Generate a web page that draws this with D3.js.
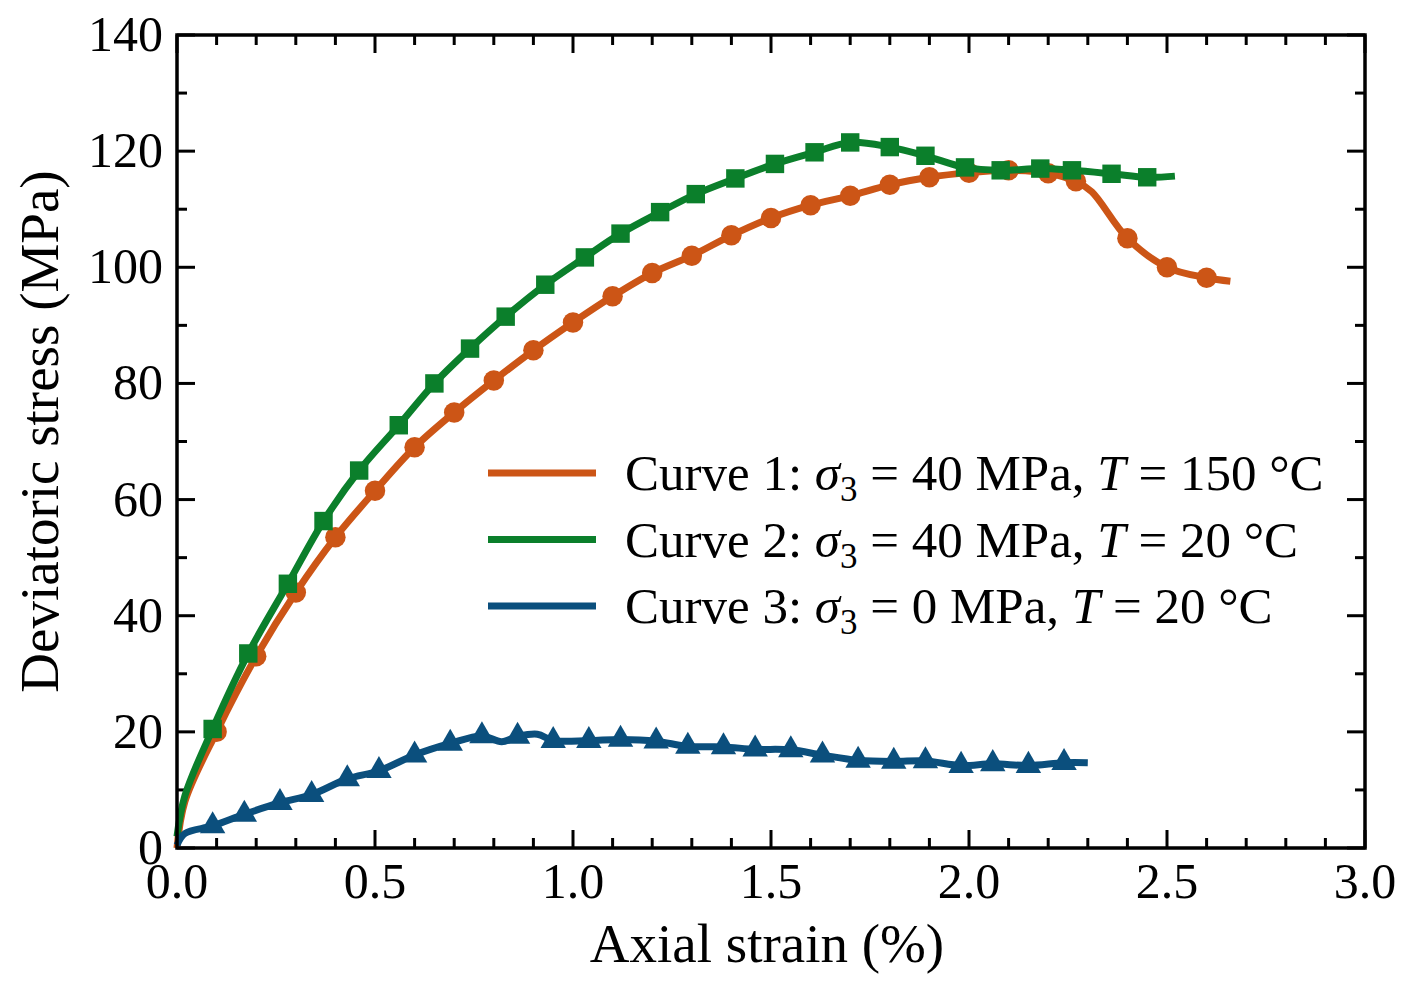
<!DOCTYPE html>
<html lang="en">
<head>
<meta charset="UTF-8">
<title>Deviatoric stress vs axial strain</title>
<script src="https://d3js.org/d3.v7.min.js"></script>
<style>
  body { margin: 0; background: #fff; }
  text { font-family: "Liberation Serif", "DejaVu Serif", serif; }
</style>
</head>
<body>
<script>
// curve 1: sigma3 = 40 MPa, T = 150 C (orange circles)
var c1Strain = [0, 0.02, 0.1, 0.2, 0.3, 0.4, 0.5, 0.6, 0.7, 0.8, 0.9, 1.0, 1.1, 1.2, 1.3, 1.4, 1.5, 1.6, 1.7, 1.8, 1.9, 2.0, 2.1, 2.2, 2.27, 2.31, 2.4, 2.5, 2.6, 2.66];
var c1Stress = [0, 8, 20, 33, 44, 53.5, 61.5, 69, 75, 80.5, 85.7, 90.5, 95, 99, 102, 105.5, 108.5, 110.7, 112.3, 114.2, 115.5, 116.3, 116.7, 116.2, 114.8, 113, 105, 100, 98.2, 97.6];
var c1Marks = [2, 3, 4, 5, 6, 7, 8, 9, 10, 11, 12, 13, 14, 15, 16, 17, 18, 19, 20, 21, 22, 23, 24, 26, 27, 28];

// curve 2: sigma3 = 40 MPa, T = 20 C (green squares)
var c2Strain = [0, 0.02, 0.09, 0.18, 0.28, 0.37, 0.46, 0.56, 0.65, 0.74, 0.83, 0.93, 1.03, 1.12, 1.22, 1.31, 1.41, 1.51, 1.61, 1.7, 1.8, 1.89, 1.99, 2.08, 2.18, 2.26, 2.36, 2.45, 2.52];
var c2Stress = [2, 9, 20.5, 33.5, 45.5, 56.3, 65, 72.8, 80, 86, 91.5, 97, 101.7, 105.8, 109.5, 112.6, 115.3, 117.8, 119.8, 121.5, 120.7, 119.2, 117.2, 116.7, 117.0, 116.7, 116.1, 115.5, 115.7];
var c2Marks = d3.range(2, 28);

// curve 3: sigma3 = 0 MPa, T = 20 C (blue triangles)
var c3Strain = [0, 0.02, 0.09, 0.17, 0.26, 0.34, 0.43, 0.51, 0.6, 0.69, 0.77, 0.82, 0.86, 0.91, 0.95, 1.04, 1.12, 1.21, 1.29, 1.38, 1.46, 1.55, 1.63, 1.72, 1.81, 1.89, 1.98, 2.06, 2.15, 2.24, 2.3];
var c3Stress = [0.5, 2.5, 3.8, 5.8, 7.8, 9.2, 11.9, 13.3, 16, 18, 19.3, 18.3, 19.2, 19.6, 18.5, 18.5, 18.7, 18.4, 17.5, 17.4, 17, 16.9, 16, 15.1, 14.9, 15, 14.2, 14.5, 14.2, 14.7, 14.7];
var c3Marks = [2, 3, 4, 5, 6, 7, 8, 9, 10, 12, 14, 15, 16, 17, 18, 19, 20, 21, 22, 23, 24, 25, 26, 27, 28, 29];

var legendLabels = [
  ["Curve 1: ", "σ", "3", " = 40 MPa, ", "T", " = 150 °C"],
  ["Curve 2: ", "σ", "3", " = 40 MPa, ", "T", " = 20 °C"],
  ["Curve 3: ", "σ", "3", " = 0 MPa, ", "T", " = 20 °C"]
];
var colors = ["#cc5516", "#0b7f2b", "#0b4f7d"];
var shapes = [d3.symbolCircle, d3.symbolSquare, d3.symbolTriangle];

var width = 1412, height = 990;
var margin = {top: 35, right: 47, bottom: 142, left: 177};

var svg = d3.select("body").append("svg")
    .attr("width", width).attr("height", height);

var x = d3.scaleLinear().domain([0, 3]).range([margin.left, width - margin.right]);
var y = d3.scaleLinear().domain([0, 140]).range([height - margin.bottom, margin.top]);

// ticks, pointing inward on all four sides
var ticks = svg.append("g").attr("stroke", "#000").attr("stroke-width", 3);
d3.range(0, 3.001, 0.1).forEach(function(v, i) {
  var len = i % 5 === 0 ? 18 : 10;
  ticks.append("line").attr("x1", x(v)).attr("x2", x(v)).attr("y1", y(0)).attr("y2", y(0) - len);
  ticks.append("line").attr("x1", x(v)).attr("x2", x(v)).attr("y1", y(140)).attr("y2", y(140) + len);
});
d3.range(0, 140.001, 10).forEach(function(v, i) {
  var len = i % 2 === 0 ? 18 : 10;
  ticks.append("line").attr("y1", y(v)).attr("y2", y(v)).attr("x1", x(0)).attr("x2", x(0) + len);
  ticks.append("line").attr("y1", y(v)).attr("y2", y(v)).attr("x1", x(3)).attr("x2", x(3) - len);
});

svg.append("g").selectAll("text").data(d3.range(0, 3.001, 0.5)).join("text")
    .attr("x", d => x(d)).attr("y", y(0) + 50)
    .attr("text-anchor", "middle").attr("font-size", 50)
    .text(d => d.toFixed(1));
svg.append("g").selectAll("text").data(d3.range(0, 140.001, 20)).join("text")
    .attr("x", x(0) - 14).attr("y", d => y(d) + 16)
    .attr("text-anchor", "end").attr("font-size", 50)
    .text(d => d);

svg.append("text").attr("x", (x(0) + x(3)) / 2 - 4).attr("y", 962)
    .attr("text-anchor", "middle").attr("font-size", 55).text("Axial strain (%)");
svg.append("text").attr("transform", "translate(58," + (y(70) - 10) + ") rotate(-90)")
    .attr("text-anchor", "middle").attr("font-size", 55).text("Deviatoric stress (MPa)");

var line = d3.line().x(d => x(d[0])).y(d => y(d[1])).curve(d3.curveCatmullRom.alpha(0.5));

var series = [
  {xs: c1Strain, ys: c1Stress, marks: c1Marks, size: 330},
  {xs: c2Strain, ys: c2Stress, marks: c2Marks, size: 340},
  {xs: c3Strain, ys: c3Stress, marks: c3Marks, size: 280}
];

var plot = svg.append("g");
series.forEach(function(s, i) {
  var pts = s.xs.map((v, j) => [v, s.ys[j]]);
  plot.append("path").datum(pts)
      .attr("d", line).attr("fill", "none")
      .attr("stroke", colors[i]).attr("stroke-width", 7).attr("stroke-linejoin", "round");
  plot.append("g").selectAll("path").data(s.marks.map(j => pts[j])).join("path")
      .attr("transform", d => "translate(" + x(d[0]) + "," + y(d[1]) + ")")
      .attr("d", d3.symbol().type(shapes[i]).size(s.size))
      .attr("fill", colors[i]);
});

// frame
svg.append("rect").attr("x", x(0)).attr("y", y(140))
    .attr("width", x(3) - x(0)).attr("height", y(0) - y(140))
    .attr("fill", "none").attr("stroke", "#000").attr("stroke-width", 3.5);

// legend
var leg = svg.append("g");
legendLabels.forEach(function(parts, i) {
  var ly = 473 + i * 66.5;
  leg.append("line").attr("x1", 488).attr("x2", 596).attr("y1", ly).attr("y2", ly)
      .attr("stroke", colors[i]).attr("stroke-width", 7);
  var t = leg.append("text").attr("x", 625).attr("y", ly + 17).attr("font-size", 51);
  t.append("tspan").text(parts[0]);
  t.append("tspan").attr("font-style", "italic").text(parts[1]);
  t.append("tspan").attr("font-size", 35).attr("dy", 11).text(parts[2]);
  t.append("tspan").attr("dy", -11).text(parts[3]);
  t.append("tspan").attr("font-style", "italic").text(parts[4]);
  t.append("tspan").text(parts[5]);
});
</script>
</body>
</html>
